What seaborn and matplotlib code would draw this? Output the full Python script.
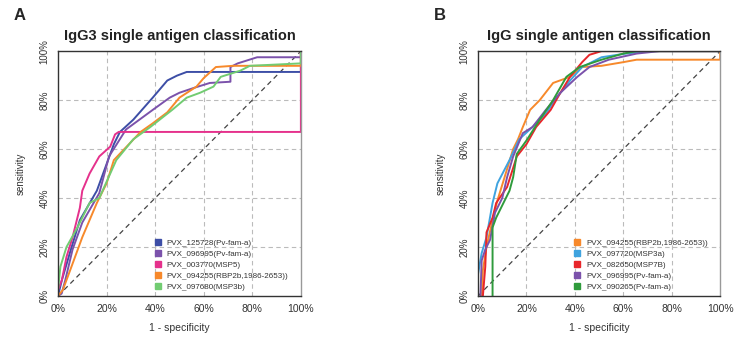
import pandas as pd
import matplotlib.pyplot as plt
import seaborn as sns
from matplotlib.lines import Line2D

# ---- panel A: IgG3 ROC curves (1 - specificity, sensitivity) ----
a_names = ["PVX_125728(Pv-fam-a)", "PVX_096995(Pv-fam-a)", "PVX_003770(MSP5)",
           "PVX_094255(RBP2b,1986-2653))", "PVX_097680(MSP3b)"]
a_colors = ["#3d4ea6", "#7b52ab", "#e5318c", "#f7892b", "#72cc72"]

a_blue_x = [0, 0.016, 0.05, 0.09, 0.16, 0.23, 0.255, 0.31, 0.39, 0.45, 0.49, 0.53, 1.0, 1.0]
a_blue_y = [0, 0.065, 0.18, 0.31, 0.43, 0.62, 0.67, 0.72, 0.81, 0.88, 0.90, 0.915, 0.915, 1.0]

a_purple_x = [0, 0.015, 0.03, 0.06, 0.10, 0.17, 0.21, 0.28, 0.39, 0.46, 0.50, 0.56, 0.625, 0.71, 0.71, 0.74, 0.82, 1.0, 1.0]
a_purple_y = [0, 0.01, 0.065, 0.19, 0.30, 0.42, 0.57, 0.68, 0.76, 0.81, 0.83, 0.85, 0.87, 0.875, 0.935, 0.95, 0.975, 0.975, 1.0]

a_pink_x = [0, 0.016, 0.035, 0.06, 0.09, 0.10, 0.13, 0.17, 0.215, 0.235, 0.25, 1.0, 1.0]
a_pink_y = [0.025, 0.065, 0.16, 0.24, 0.36, 0.43, 0.50, 0.57, 0.61, 0.66, 0.67, 0.67, 1.0]

a_orange_x = [0, 0.02, 0.05, 0.10, 0.16, 0.20, 0.23, 0.34, 0.39, 0.45, 0.50, 0.57, 0.60, 0.65, 0.72, 1.0, 1.0]
a_orange_y = [0, 0.025, 0.105, 0.24, 0.38, 0.46, 0.555, 0.67, 0.705, 0.75, 0.81, 0.855, 0.89, 0.935, 0.94, 0.94, 1.0]

a_green_x = [0, 0, 0.01, 0.035, 0.08, 0.13, 0.17, 0.24, 0.31, 0.38, 0.47, 0.53, 0.585, 0.64, 0.67, 0.75, 0.79, 1.0, 1.0]
a_green_y = [0, 0.025, 0.12, 0.20, 0.28, 0.38, 0.40, 0.555, 0.64, 0.69, 0.76, 0.81, 0.83, 0.855, 0.895, 0.92, 0.94, 0.95, 1.0]

# ---- panel B: IgG ROC curves ----
b_names = ["PVX_094255(RBP2b,1986-2653))", "PVX_097720(MSP3a)", "PVX_082650(MSP7B)",
           "PVX_096995(Pv-fam-a)", "PVX_090265(Pv-fam-a)"]
b_colors = ["#f7892b", "#3fa3df", "#e8262b", "#7b52ab", "#2f9b3c"]

b_orange_x = [0.016, 0.02, 0.035, 0.06, 0.08, 0.105, 0.145, 0.165, 0.185, 0.215, 0.255, 0.31, 0.38, 0.43, 0.51, 0.60, 0.655, 1.0, 1.0]
b_orange_y = [0, 0.105, 0.20, 0.31, 0.39, 0.47, 0.60, 0.64, 0.69, 0.76, 0.80, 0.87, 0.895, 0.935, 0.94, 0.955, 0.965, 0.965, 1.0]

b_blue_x = [0, 0, 0.015, 0.035, 0.06, 0.08, 0.13, 0.17, 0.225, 0.28, 0.325, 0.38, 0.43, 0.51, 0.61, 0.72, 1.0]
b_blue_y = [0, 0.09, 0.175, 0.24, 0.38, 0.46, 0.555, 0.64, 0.69, 0.745, 0.81, 0.88, 0.935, 0.975, 0.99, 1.0, 1.0]

b_red_x = [0.02, 0.03, 0.035, 0.06, 0.075, 0.12, 0.16, 0.20, 0.24, 0.30, 0.34, 0.38, 0.43, 0.46, 0.51, 1.0]
b_red_y = [0, 0.12, 0.26, 0.32, 0.38, 0.445, 0.57, 0.62, 0.69, 0.76, 0.83, 0.895, 0.955, 0.985, 1.0, 1.0]

b_purple_x = [0.01, 0.015, 0.03, 0.05, 0.07, 0.10, 0.12, 0.145, 0.185, 0.225, 0.28, 0.34, 0.41, 0.46, 0.54, 0.655, 0.75, 1.0]
b_purple_y = [0, 0.145, 0.19, 0.23, 0.34, 0.40, 0.485, 0.57, 0.665, 0.69, 0.76, 0.83, 0.895, 0.935, 0.965, 0.99, 1.0, 1.0]

b_green_x = [0.06, 0.06, 0.075, 0.105, 0.13, 0.145, 0.16, 0.20, 0.255, 0.31, 0.365, 0.42, 0.51, 0.60, 0.655, 1.0]
b_green_y = [0, 0.28, 0.32, 0.38, 0.43, 0.485, 0.58, 0.635, 0.72, 0.80, 0.895, 0.935, 0.965, 0.99, 1.0, 1.0]


def to_frame(names, xs, ys):
    parts = []
    for n, x, y in zip(names, xs, ys):
        parts.append(pd.DataFrame({"fpr": x, "tpr": y, "antigen": n}))
    return pd.concat(parts, ignore_index=True)


data_a = to_frame(a_names, [a_blue_x, a_purple_x, a_pink_x, a_orange_x, a_green_x],
                  [a_blue_y, a_purple_y, a_pink_y, a_orange_y, a_green_y])
data_b = to_frame(b_names, [b_orange_x, b_blue_x, b_red_x, b_purple_x, b_green_x],
                  [b_orange_y, b_blue_y, b_red_y, b_purple_y, b_green_y])

sns.set_style("white")
plt.rcParams['font.family'] = ['Liberation Sans', 'DejaVu Sans']

fig = plt.figure(figsize=(7.36, 3.42), dpi=100)
ax_a = fig.add_axes([0.0788, 0.1345, 0.330, 0.716])
ax_b = fig.add_axes([0.6495, 0.1345, 0.329, 0.716])

panels = [(ax_a, data_a, a_names, a_colors, "IgG3 single antigen classification", "A", 0.027),
          (ax_b, data_b, b_names, b_colors, "IgG single antigen classification", "B", 0.598)]

ticks = [0, 0.2, 0.4, 0.6, 0.8, 1.0]
tick_labels = ["0%", "20%", "40%", "60%", "80%", "100%"]

for ax, df, names, colors, title, letter, lx in panels:
    for t in ticks[1:-1]:
        ax.axhline(t, color="#bbbbbb", ls=(0, (4, 3)), lw=0.8, zorder=0)
        ax.axvline(t, color="#bbbbbb", ls=(0, (4, 3)), lw=0.8, zorder=0)
    ax.plot([0, 1], [0, 1], color="#444444", ls=(0, (4, 3)), lw=0.9, zorder=1)

    sns.lineplot(data=df, x="fpr", y="tpr", hue="antigen", hue_order=names,
                 palette=dict(zip(names, colors)), sort=False, estimator=None,
                 lw=1.4, legend=False, ax=ax, zorder=2)

    ax.set_xlim(0, 1)
    ax.set_ylim(0, 1)
    ax.set_xticks(ticks)
    ax.set_xticklabels(tick_labels, fontsize=7.5, color="#333333")
    ax.set_yticks(ticks)
    ax.set_yticklabels(tick_labels, fontsize=7, rotation=90, va="center", color="#333333")
    ax.tick_params(axis="both", direction="out", length=3, width=0.8, colors="#333333", pad=3)
    ax.tick_params(axis="both", labelcolor="#333333")
    for s in ax.spines.values():
        s.set_color("#333333")
        s.set_linewidth(1.0)
    ax.spines["right"].set_color("#999999")
    ax.set_xlabel("1 - specificity", fontsize=7.5, color="#333333", labelpad=6)
    ax.set_ylabel("sensitivity", fontsize=7, color="#333333", labelpad=10)
    ax.set_title(title, fontsize=10.5, fontweight="bold", pad=8, color="#222222")

    handles = [Line2D([], [], marker="s", ls="none", color=c, markersize=5) for c in colors]
    ax.legend(handles, names, loc="upper left", bbox_to_anchor=(0.38, 0.245), frameon=False,
              fontsize=5.8, handletextpad=0.6, labelspacing=0.42, handlelength=1.0,
              borderaxespad=0, labelcolor="#333333")

    fig.text(lx, 0.955, letter, fontsize=12, fontweight="bold", ha="center", va="center")

fig.savefig("out.png", dpi=100)
